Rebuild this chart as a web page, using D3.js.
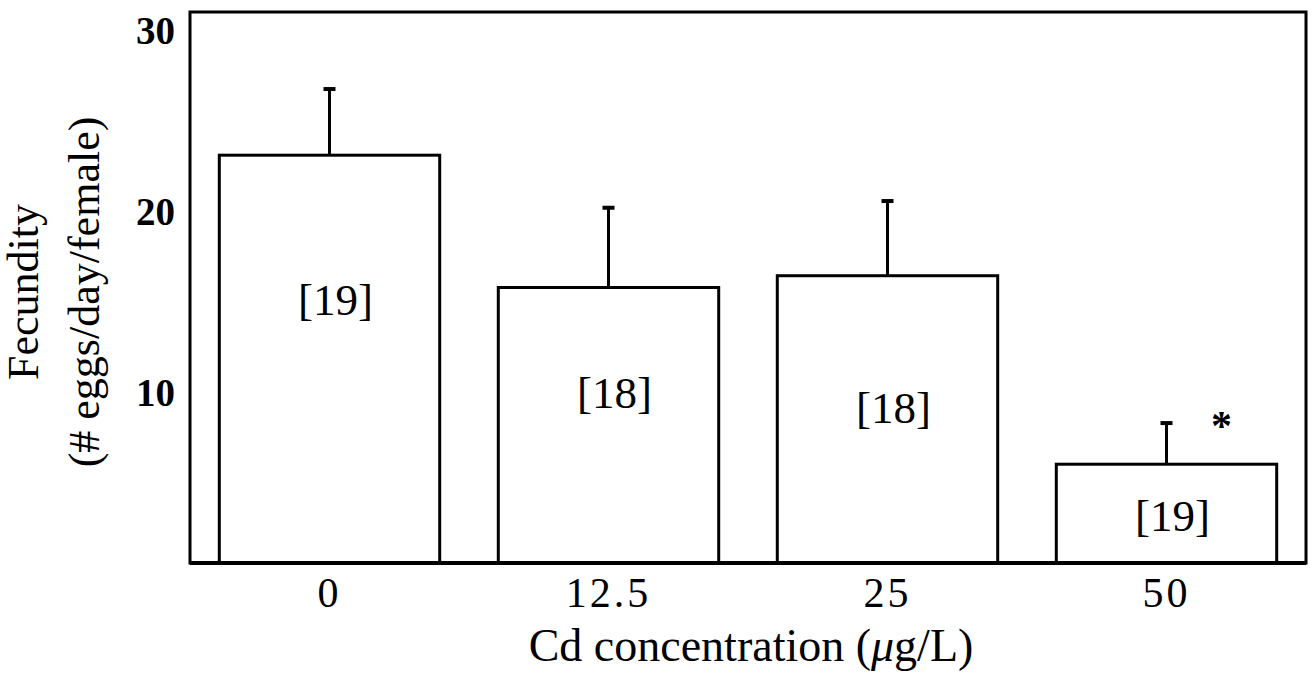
<!DOCTYPE html>
<html><head><meta charset="utf-8">
<script src="https://cdn.jsdelivr.net/npm/d3@7"></script>
<style>
html,body{margin:0;padding:0;background:#fff;}
text{font-family:"Liberation Serif","Times New Roman",serif;fill:#000;}
</style></head>
<body><svg id="c" width="1315" height="675"></svg>
<script>
// Data
const categories = ["0", "12.5", "25", "50"];
const means = [22.5, 15.2, 15.85, 5.45];
const errUpper = [26.15, 19.6, 19.97, 7.72];
const sampleSizes = ["[19]", "[18]", "[18]", "[19]"];
const sampleLabelAt = [14.5, 9.4, 8.55, 2.6];
const significant = [false, false, false, true];
const yTicks = [10, 20, 30];

(function () {
const svg = d3.select("#c");
const pL = 190, pR = 1306, pT = 12, pB = 563;

const x = d3.scaleBand().domain(categories).range([pL, pR])
  .paddingInner(0.21).paddingOuter(0.105);
const y = d3.scaleLinear().domain([0, 30.4]).range([pB, pT]);

// frame
svg.append("rect").attr("x", pL).attr("y", pT)
  .attr("width", pR - pL).attr("height", pB - pT)
  .attr("fill", "none").attr("stroke", "#000").attr("stroke-width", 3);

// bars
const g = svg.append("g");
categories.forEach((c, i) => {
  const cx = x(c) + x.bandwidth() / 2;
  g.append("line").attr("x1", cx).attr("x2", cx)
    .attr("y1", y(means[i])).attr("y2", y(errUpper[i]))
    .attr("stroke", "#000").attr("stroke-width", 3);
  g.append("line").attr("x1", cx - 6).attr("x2", cx + 6)
    .attr("y1", y(errUpper[i])).attr("y2", y(errUpper[i]))
    .attr("stroke", "#000").attr("stroke-width", 4);
  g.append("rect").attr("x", x(c)).attr("y", y(means[i]))
    .attr("width", x.bandwidth()).attr("height", y(0) - y(means[i]))
    .attr("fill", "#fff").attr("stroke", "#000").attr("stroke-width", 3);
  g.append("text").attr("x", cx + 6).attr("y", y(sampleLabelAt[i]))
    .attr("text-anchor", "middle").attr("dominant-baseline", "central")
    .attr("font-size", 45).text(sampleSizes[i]);
  if (significant[i]) {
    g.append("text").attr("x", cx + 55).attr("y", y(errUpper[i]) + 17)
      .attr("text-anchor", "middle").attr("font-weight", "bold")
      .attr("font-size", 42).text("*");
  }
});

// x axis line
svg.append("line").attr("x1", pL).attr("x2", pR)
  .attr("y1", pB).attr("y2", pB)
  .attr("stroke", "#000").attr("stroke-width", 4);

// x tick labels
const xAxis = d3.axisBottom(x).tickSize(0).tickPadding(0);
const xg = svg.append("g").attr("transform", `translate(0,${pB})`).call(xAxis);
xg.select(".domain").remove();
xg.selectAll("text").attr("font-size", 42).attr("y", 44).attr("dy", 0)
  .attr("font-family", "Liberation Serif").attr("letter-spacing", 3);

// y tick labels
const yAxis = d3.axisLeft(y).tickValues(yTicks).tickSize(0).tickPadding(15);
const yg = svg.append("g").attr("transform", `translate(${pL},0)`).call(yAxis);
yg.select(".domain").remove();
yg.selectAll("text").attr("font-size", 39).attr("font-weight", "bold")
  .attr("dy", "0.62em").attr("font-family", "Liberation Serif");

// axis titles
const xt = svg.append("text").attr("x", (pL + pR) / 2 + 3).attr("y", 661)
  .attr("text-anchor", "middle").attr("font-size", 46);
xt.append("tspan").text("Cd concentration (");
xt.append("tspan").attr("font-style", "italic").text("\u03bc");
xt.append("tspan").text("g/L)");

const yt = svg.append("text").attr("transform", "translate(0,292) rotate(-90)")
  .attr("text-anchor", "middle").attr("font-size", 44);
yt.append("tspan").attr("x", 0).attr("y", 38).text("Fecundity");
yt.append("tspan").attr("x", 0).attr("y", 99).text("(# eggs/day/female)");
})();
</script></body></html>
